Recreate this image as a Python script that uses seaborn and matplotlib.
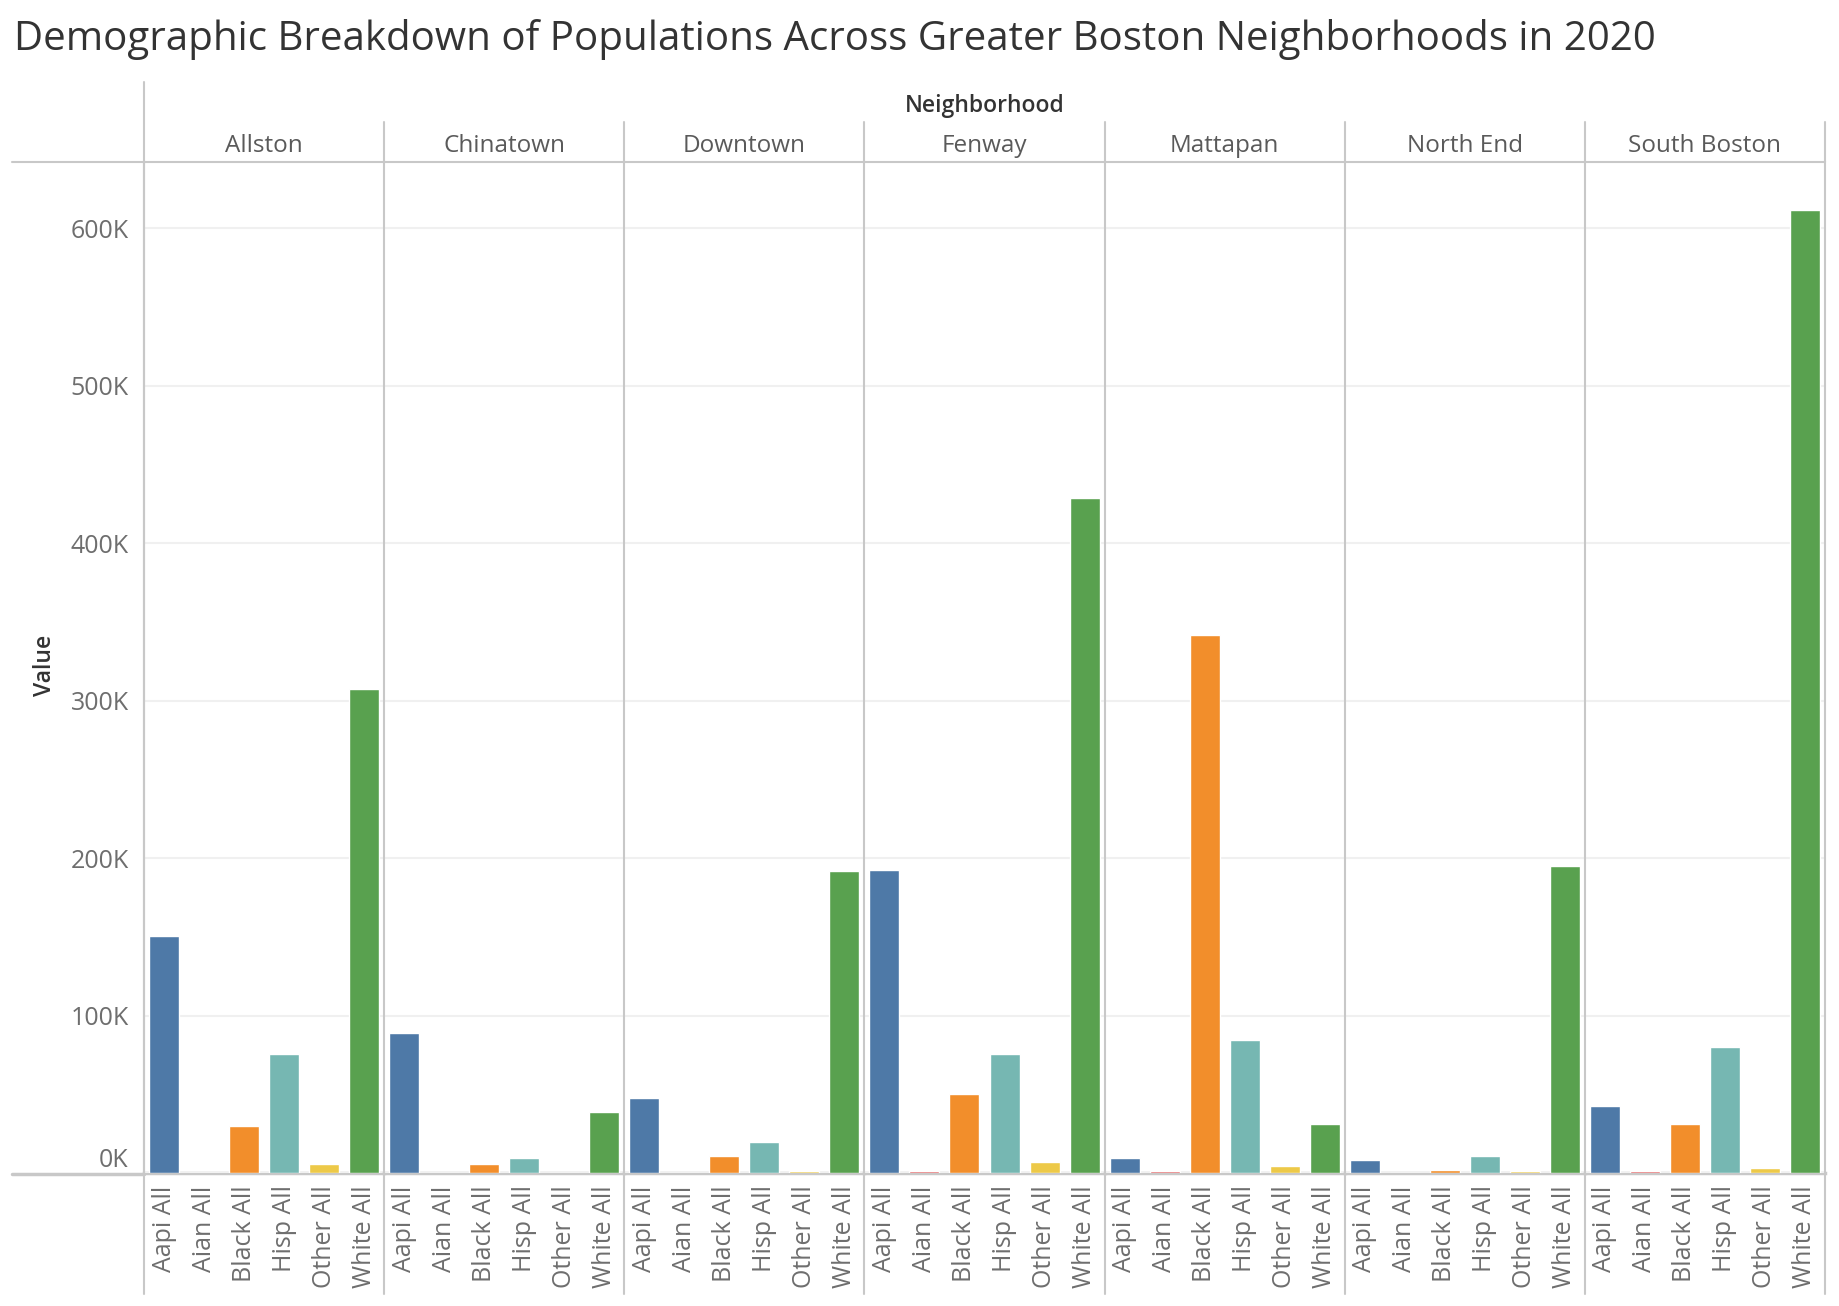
import matplotlib
matplotlib.use("Agg")
import matplotlib.pyplot as plt
from matplotlib.lines import Line2D
from matplotlib.ticker import FuncFormatter
import seaborn as sns
import pandas as pd

# data (values in thousands)
neighborhoods = ["Allston", "Chinatown", "Downtown", "Fenway", "Mattapan", "North End", "South Boston"]
races = ["Aapi All", "Aian All", "Black All", "Hisp All", "Other All", "White All"]
aapi = [150.6, 89.2, 47.5, 192.2, 9.5, 8.2, 42.4]
aian = [0.0, 0.0, 0.0, 1.0, 1.0, 0.0, 1.0]
black = [29.7, 5.6, 10.7, 50.2, 341.8, 2.0, 31.0]
hisp = [75.5, 9.5, 19.7, 75.3, 84.2, 10.8, 80.2]
other = [5.5, 0.0, 1.0, 7.0, 4.4, 1.0, 3.3]
white = [307.5, 38.6, 192.0, 428.6, 31.0, 194.7, 611.4]

race_colors = ["#4e79a7", "#e15759", "#f28e2b", "#76b7b2", "#edc948", "#59a14f"]

series = [aapi, aian, black, hisp, other, white]
rows = []
for r, vals in zip(races, series):
    for n, v in zip(neighborhoods, vals):
        rows.append({"Neighborhood": n, "Race": r, "Value": v * 1000})
df = pd.DataFrame(rows)

sns.set_theme(style="white")
plt.rcParams["font.family"] = ["Open Sans", "DejaVu Sans"]

W, H = 1840, 1306
fig = plt.figure(figsize=(W / 100, H / 100), dpi=100)

line_col = "#c8c8c8"
grid_col = "#f0f0f0"
label_col = "#6e6e6e"
x0, x1 = 144, 1825
y_top, y_base = 162, 1173
panel_w = (x1 - x0) / len(neighborhoods)
ymax = 642000


def fx(px):
    return px / W


def fy(py):
    return 1 - py / H


axes = []
for i, n in enumerate(neighborhoods):
    ax = fig.add_axes([fx(x0 + i * panel_w), fy(y_base), fx(panel_w), (y_base - y_top) / H])
    sub = df[df["Neighborhood"] == n]
    sns.barplot(data=sub, x="Race", y="Value", hue="Race", order=races, hue_order=races,
                palette=race_colors, width=0.75, legend=False, ax=ax, saturation=1)
    ax.set_ylim(0, ymax)
    ax.set_yticks(range(0, 600001, 100000))
    ax.yaxis.grid(True, color=grid_col, linewidth=1.5)
    ax.set_axisbelow(True)
    ax.set_xlabel("")
    ax.set_ylabel("")
    for s in ["top", "right"]:
        ax.spines[s].set_visible(False)
    ax.spines["left"].set_color(line_col)
    ax.spines["left"].set_linewidth(1.5)
    ax.spines["bottom"].set_color(line_col)
    ax.spines["bottom"].set_linewidth(2.5)
    ax.spines["bottom"].set_zorder(0.5)
    if i == len(neighborhoods) - 1:
        ax.spines["right"].set_visible(True)
        ax.spines["right"].set_color(line_col)
        ax.spines["right"].set_linewidth(1.5)
    ax.tick_params(axis="x", which="major", length=0, pad=9, labelsize=18, labelcolor=label_col)
    ax.set_xticks([k + 0.5 for k in range(len(races) - 1)], minor=True)
    ax.tick_params(axis="x", which="minor", length=12, width=1.5, color="#ececec", direction="out")
    for lbl in ax.get_xticklabels():
        lbl.set_rotation(90)
        lbl.set_va("top")
    if i == 0:
        ax.yaxis.set_major_formatter(FuncFormatter(lambda v, p: f"{int(round(v / 1000))}K"))
        ax.tick_params(axis="y", length=10, width=1.5, color=grid_col, pad=1,
                       labelsize=18, labelcolor=label_col)
    else:
        ax.tick_params(axis="y", length=0, labelleft=False)
    axes.append(ax)

# shift the 0K label up like the reference
fig.canvas.draw()
for lbl in axes[0].get_yticklabels():
    if lbl.get_text() == "0K":
        lbl.set_va("bottom")

fig.text(fx(45), fy(665), "Value", rotation=90, ha="center", va="center",
         fontsize=16.5, fontweight="semibold", color="#333333")

# header and frame lines
fig.add_artist(Line2D([fx(12), fx(x1)], [fy(y_top), fy(y_top)], color=line_col, lw=1.5))
fig.add_artist(Line2D([fx(12), fx(x0)], [fy(y_base + 1), fy(y_base + 1)], color=line_col, lw=2.5))
fig.add_artist(Line2D([fx(x0), fx(x0)], [fy(82), fy(1294)], color=line_col, lw=1.5))
for i in range(1, len(neighborhoods) + 1):
    xp = x0 + i * panel_w
    fig.add_artist(Line2D([fx(xp), fx(xp)], [fy(122), fy(y_top)], color=line_col, lw=1.5))
    fig.add_artist(Line2D([fx(xp), fx(xp)], [fy(y_base), fy(1294)], color=line_col, lw=1.5))

fig.text(fx((x0 + x1) / 2), fy(106), "Neighborhood", ha="center", va="center",
         fontsize=16.5, fontweight="semibold", color="#333333")
for i, n in enumerate(neighborhoods):
    fig.text(fx(x0 + (i + 0.5) * panel_w), fy(146), n, ha="center", va="center",
             fontsize=17.5, color="#5a5a5a")

fig.text(fx(14), fy(40), "Demographic Breakdown of Populations Across Greater Boston Neighborhoods in 2020",
         ha="left", va="center", fontsize=29, color="#333333")

fig.savefig("out.png", dpi=100)
